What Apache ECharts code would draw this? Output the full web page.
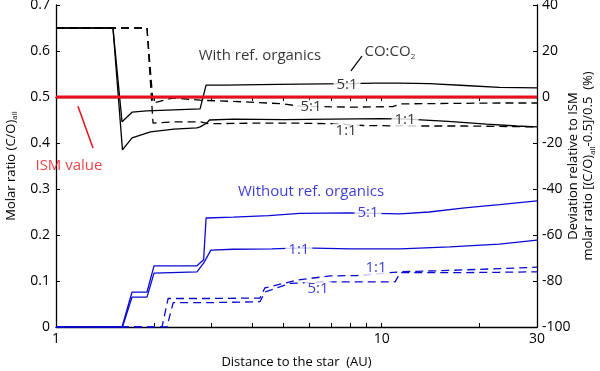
<!DOCTYPE html>
<html lang="en">
<head>
<meta charset="utf-8">
<title>C/O ratio vs distance</title>
<script src="https://cdn.jsdelivr.net/npm/echarts@6/dist/echarts.min.js"></script>
<style>
  html, body { margin: 0; background: #fff; }
  #panel { width: 600px; height: 371px; }
</style>
</head>
<body>
<div id="panel"></div>
<script>
// distances in AU, molar ratios (C/O)all read off the figure
// with refractory organics (black)
const refSolid51X = [1, 1.496, 1.595, 1.712, 1.9, 2.3, 2.77, 2.89, 3.3, 4.2, 5.6, 8.0, 9.5, 11.4, 14, 18, 23, 30];
const refSolid51Y = [0.65, 0.65, 0.446, 0.467, 0.47, 0.472, 0.474, 0.526, 0.526, 0.527, 0.528, 0.529, 0.53, 0.53, 0.529, 0.525, 0.521, 0.52];
const refSolid11X = [1, 1.496, 1.6, 1.712, 1.95, 2.3, 2.71, 2.77, 2.9, 2.96, 3.5, 5, 7, 10, 12, 16, 21, 26, 30];
const refSolid11Y = [0.65, 0.65, 0.385, 0.411, 0.424, 0.43, 0.433, 0.435, 0.443, 0.45, 0.452, 0.451, 0.452, 0.453, 0.452, 0.447, 0.441, 0.437, 0.435];
const refDash51X = [1, 1.903, 1.986, 2.29, 2.77, 3.94, 5.0, 5.6, 8, 10.8, 11.5, 16, 23, 30];
const refDash51Y = [0.65, 0.65, 0.487, 0.498, 0.493, 0.489, 0.485, 0.48, 0.478, 0.479, 0.485, 0.486, 0.487, 0.487];
const refDash11X = [1, 1.903, 1.986, 2.29, 2.77, 2.93, 4, 5.6, 7, 8.8, 12, 18, 30];
const refDash11Y = [0.65, 0.65, 0.443, 0.446, 0.446, 0.442, 0.443, 0.443, 0.442, 0.438, 0.437, 0.437, 0.435];
// without refractory organics (blue)
const noSolid51X = [1, 1.595, 1.712, 1.903, 2.0, 2.71, 2.84, 2.89, 3.5, 4.5, 5.6, 8, 11.4, 14, 18, 23, 30];
const noSolid51Y = [0, 0, 0.076, 0.076, 0.133, 0.133, 0.146, 0.237, 0.239, 0.242, 0.247, 0.248, 0.246, 0.25, 0.259, 0.266, 0.274];
const noSolid11X = [1, 1.6, 1.712, 1.903, 2.0, 2.71, 2.84, 2.99, 3.5, 4.6, 5.7, 8, 11.4, 16.2, 23, 30];
const noSolid11Y = [0, 0, 0.065, 0.065, 0.117, 0.12, 0.139, 0.167, 0.169, 0.17, 0.172, 0.17, 0.17, 0.174, 0.18, 0.189];
const noDash11X = [1, 2.116, 2.21, 3.0, 4.23, 4.38, 5.5, 6.94, 8.4, 11.4, 16.2, 23, 30];
const noDash11Y = [0, 0, 0.062, 0.062, 0.063, 0.085, 0.102, 0.111, 0.112, 0.12, 0.123, 0.127, 0.13];
const noDash51X = [1, 2.19, 2.29, 3.0, 4.23, 4.38, 5.23, 6.94, 11.0, 11.4, 16.2, 23, 30];
const noDash51Y = [0, 0, 0.053, 0.053, 0.055, 0.076, 0.095, 0.098, 0.098, 0.118, 0.118, 0.119, 0.12];
// ISM reference ratio
const ismX = [1, 30];
const ismY = [0.5, 0.5];

// tick values
const xTicks = [1, 2, 3, 4, 5, 6, 7, 8, 9, 10, 20, 30];
const xLabels = [1, 10, 30];

const font = 'Open Sans';
const black = '#000';
const blue = '#0a0ad2';
const red = '#e8101a';

const pairs = (xs, ys) => xs.map((x, i) => [x, ys[i]]);

function curve(xs, ys, color, dashed, width) {
	return {
		type: 'line',
		data: pairs(xs, ys),
		xAxisIndex: 0,
		yAxisIndex: 0,
		symbol: 'none',
		silent: true,
		lineStyle: { color: color, width: width || 1.3, type: dashed ? [8, 5] : 'solid' },
		z: 3
	};
}

// text notes placed in data space (AU, ratio)
const notes = [
	{ name: 'With ref. organics', value: [4.23, 0.589], color: black, bg: null },
	{ name: 'CO:CO{s|2}', value: [10.6, 0.598], color: black, bg: null },
	{ name: '5:1', value: [7.83, 0.526], color: black, bg: '#fff' },
	{ name: '5:1', value: [6.07, 0.478], color: black, bg: '#fff' },
	{ name: '1:1', value: [11.8, 0.45], color: black, bg: '#fff' },
	{ name: '1:1', value: [7.78, 0.426], color: black, bg: '#fff' },
	{ name: 'ISM value', value: [1.096, 0.35], color: red, bg: null },
	{ name: 'Without ref. organics', value: [6.07, 0.293], color: blue, bg: null },
	{ name: '5:1', value: [9.08, 0.248], color: blue, bg: '#fff' },
	{ name: '1:1', value: [5.57, 0.167], color: blue, bg: '#fff' },
	{ name: '1:1', value: [9.61, 0.128], color: blue, bg: '#fff' },
	{ name: '5:1', value: [6.38, 0.083], color: blue, bg: '#fff' }
];

const panel = echarts.init(document.getElementById('panel'));

const axisLineStyle = { color: black, width: 1.3 };
const subRich = { s: { fontSize: 8, color: black, fontFamily: font, padding: [8, 0, 0, 0] } };

let option = {
	backgroundColor: '#fff',
	animation: false,
	textStyle: { fontFamily: font },
	grid: { left: 56, right: 63, top: 5, bottom: 44, outerBoundsMode: 'none', containLabel: false },
	xAxis: [{
		type: 'log',
		logBase: 10,
		min: 1,
		max: 30,
		position: 'bottom',
		axisLine: { show: true, lineStyle: axisLineStyle },
		axisTick: { show: true, inside: true, length: 4, customValues: xTicks, lineStyle: { color: black } },
		minorTick: { show: false },
		axisLabel: { customValues: xLabels, color: black, fontSize: 14, fontFamily: font, margin: 5 },
		splitLine: { show: false },
		name: 'Distance to the star  (AU)',
		nameLocation: 'middle',
		nameGap: 29,
		nameMoveOverlap: false,
		nameTextStyle: { color: black, fontSize: 13, fontFamily: font }
	}, {
		type: 'log',
		logBase: 10,
		min: 1,
		max: 30,
		position: 'top',
		axisLine: { show: true, lineStyle: axisLineStyle },
		axisTick: { show: true, inside: true, length: 4, customValues: xTicks, lineStyle: { color: black } },
		axisLabel: { show: false },
		splitLine: { show: false }
	}],
	yAxis: [{
		type: 'value',
		min: 0,
		max: 0.7,
		interval: 0.1,
		position: 'left',
		axisLine: { show: true, lineStyle: axisLineStyle },
		axisTick: { show: true, inside: true, length: 4, lineStyle: { color: black } },
		axisLabel: { color: black, fontSize: 14, fontFamily: font, margin: 6 },
		splitLine: { show: false },
		name: 'Molar ratio (C/O){s|all}',
		nameLocation: 'middle',
		nameGap: 37,
		nameMoveOverlap: false,
		nameTextStyle: { color: black, fontSize: 13, fontFamily: font, rich: subRich }
	}, {
		type: 'value',
		min: -100,
		max: 40,
		interval: 20,
		position: 'right',
		axisLine: { show: true, lineStyle: axisLineStyle },
		axisTick: { show: true, inside: true, length: 4, lineStyle: { color: black } },
		axisLabel: { color: black, fontSize: 14, fontFamily: font, margin: 5 },
		splitLine: { show: false },
		name: 'Deviation relative to ISM\nmolar ratio [(C/O){s|all}-0.5]/0.5  (%)',
		nameLocation: 'middle',
		nameGap: 29,
		nameMoveOverlap: false,
		nameTextStyle: { color: black, fontSize: 13, fontFamily: font, lineHeight: 15, align: 'center', rich: subRich }
	}],
	series: [
		curve(refSolid51X, refSolid51Y, black, false),
		curve(refSolid11X, refSolid11Y, black, false),
		curve(refDash51X, refDash51Y, black, true),
		curve(refDash11X, refDash11Y, black, true),
		curve(noSolid51X, noSolid51Y, blue, false),
		curve(noSolid11X, noSolid11Y, blue, false),
		curve(noDash11X, noDash11Y, blue, true),
		curve(noDash51X, noDash51Y, blue, true),
		Object.assign(curve(ismX, ismY, red, false, 3), { z: 4 }),
		// leader for the ISM note
		curve([1.168, 1.299], [0.48, 0.389], red, false, 1.5),
		// leader for CO:CO2
		curve([8.05, 8.7], [0.557, 0.589], black, false, 1.2),
		{
			type: 'scatter',
			symbolSize: 0,
			silent: true,
			z: 6,
			data: notes.map(n => ({
				name: n.name,
				value: n.value,
				label: {
					color: n.color,
					backgroundColor: n.bg || 'transparent',
					padding: n.bg ? [0, 3] : 0
				}
			})),
			label: {
				show: true,
				position: 'inside',
				formatter: '{b}',
				fontSize: 15,
				fontFamily: font,
				rich: { s: { fontSize: 8, padding: [9, 0, 0, 0] } }
			}
		}
	]
};
panel.setOption(option);
</script>
</body>
</html>
